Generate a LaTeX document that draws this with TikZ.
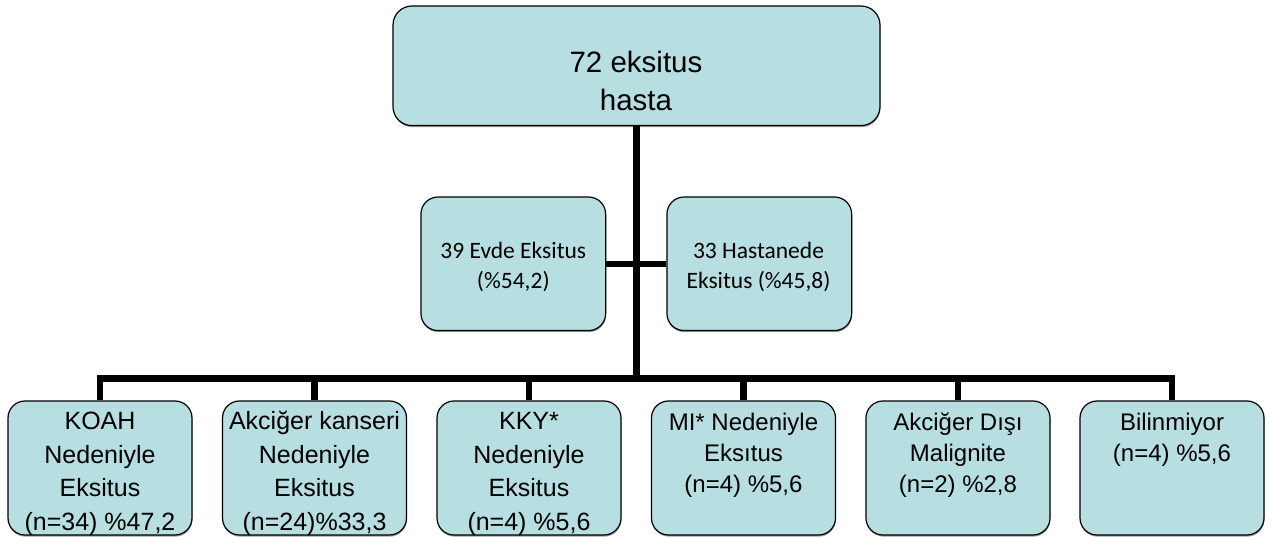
\documentclass[tikz,border=0pt]{standalone}
\usepackage{fontspec}
\setmainfont{Liberation Sans}
\newfontfamily\calib{Carlito}
\usetikzlibrary{shadows,calc}
\definecolor{boxfill}{RGB}{183,222,225}
\tikzset{
  x=1pt,y=1pt,
  boxbase/.style={draw=black, line width=1.2pt, fill=boxfill, rectangle, inner sep=0pt,
    drop shadow={shadow xshift=0.4pt, shadow yshift=-1.6pt, fill=black!40, opacity=1}},
  topbox/.style={boxbase, rounded corners=19pt, minimum width=487pt, minimum height=119.6pt},
  midbox/.style={boxbase, rounded corners=17pt, minimum width=184.7pt, minimum height=133.5pt},
  leafbox/.style={boxbase, rounded corners=17pt, minimum width=184pt, minimum height=134pt},
  toptxt/.style={anchor=base, align=center, inner sep=0pt, font=\fontsize{29.5}{37.5}\selectfont},
  midtxt/.style={anchor=base, align=center, inner sep=0pt, font=\calib\fontsize{23.5}{30.5}\selectfont},
  leaftxtA/.style={anchor=base, align=center, inner sep=0pt, font=\fontsize{25}{33.5}\selectfont},
  leaftxtB/.style={anchor=base, align=center, inner sep=0pt, font=\fontsize{24}{31}\selectfont},
  bus/.style={line width=6.5pt, line join=miter, draw=black}
}
\begin{document}
\begin{tikzpicture}
\useasboundingbox (0,0) rectangle (1272,-537);
% boxes
\node[topbox] (top) at (636.5,-65.8) {};
\node[midbox] (ev) at (513.3,-263.8) {};
\node[midbox] (hs) at (759.3,-263.8) {};
\node[leafbox] (k1) at (100,-468) {};
\node[leafbox] (k2) at (314.5,-468) {};
\node[leafbox] (k3) at (529,-468) {};
\node[leafbox] (k4) at (743.5,-468) {};
\node[leafbox] (k5) at (958,-468) {};
\node[leafbox] (k6) at (1172,-468) {};
% junctions
\coordinate (j1) at (636.5,-263.8);
\coordinate (j2) at (636.5,-378.5);
% connectors
\draw[bus] (top.south -| j1) -- (j2);
\draw[bus] (ev.east) -- (hs.west);
\draw[bus] (k1.north) -- (k1.north |- j2) -- (k6.north |- j2) -- (k6.north);
\foreach \k in {k2,k3,k4,k5} \draw[bus] (\k.north) -- (\k.north |- j2);
% texts (anchored at the baseline of the last line)
\node[toptxt] (top-t) at (636,-110.2) {72 eksitus\\hasta};
\node[midtxt] (ev-t) at (513.3,-288.8) {39 Evde Eksitus\\(\%54,2)};
\node[midtxt] (hs-t) at (758.5,-288.8) {33 Hastanede\\Eksitus (\%45,8)};
\node[leaftxtA] (k1-t) at (100,-530) {KOAH\\Nedeniyle\\Eksitus\\(n=34) \%47,2};
\node[leaftxtA] (k2-t) at (314.5,-530) {Akciğer kanseri\\Nedeniyle\\Eksitus\\(n=24)\%33,3};
\node[leaftxtA] (k3-t) at (529,-530) {KKY*\\Nedeniyle\\Eksitus\\(n=4) \%5,6};
\node[leaftxtB] (k4-t) at (743.5,-492) {MI* Nedeniyle\\Eksıtus\\(n=4) \%5,6};
\node[leaftxtB] (k5-t) at (958,-492) {Akciğer Dışı\\Malignite\\(n=2) \%2,8};
\node[leaftxtB] (k6-t) at (1172,-461) {Bilinmiyor\\(n=4) \%5,6};
\end{tikzpicture}
\end{document}
